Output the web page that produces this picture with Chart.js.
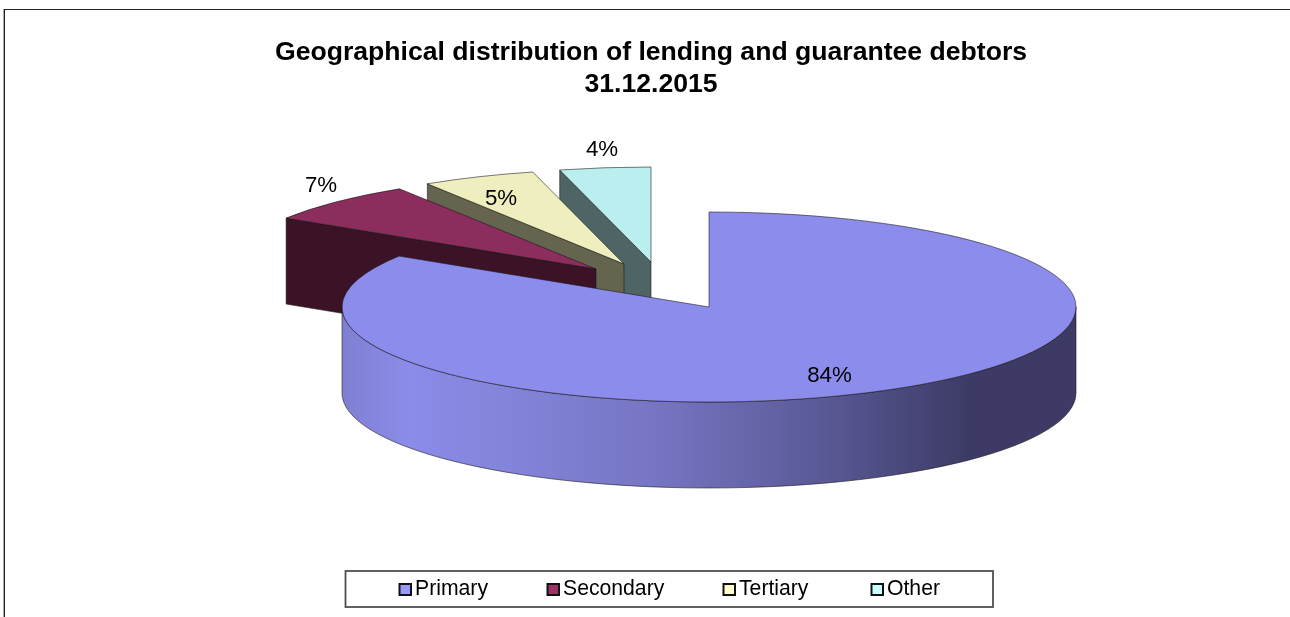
<!DOCTYPE html>
<html>
<head>
<meta charset="utf-8">
<title>Geographical distribution</title>
<script src="https://cdn.jsdelivr.net/npm/chart.js@4"></script>
<style>
  html, body { margin: 0; padding: 0; background: #fff; overflow: hidden; }
  canvas { display: block; }
</style>
</head>
<body>
<canvas id="mycanvas" width="1290" height="617"></canvas>
<script>
var categories = ["Primary", "Secondary", "Tertiary", "Other"];
var shares = [84, 7, 5, 4];
var titleLines = ["Geographical distribution of lending and guarantee debtors", "31.12.2015"];

var topColors = ["#8c8cec", "#8b2e5e", "#eeeebe", "#bbeeee"];
var wallColors = ["#8888e0", "#3c1226", "#65654f", "#4f6565"];
var keyColors = ["#9999ff", "#993366", "#ffffcc", "#ccffff"];

// pie seen at a tilt: ellipse centre and radii, and the height of the disc
var tilt = { cx: 709, cy: 307, rx: 367, ry: 95, depth: 86 };
// how far each slice is pulled away from the centre
var pullX = [0, -113, -85, -58];
var pullY = [0, -38, -43, -45];
// label centres
var labelX = [829.5, 321, 501, 602];
var labelY = [376, 186, 199, 150];
// left edge of each legend swatch
var keyX = [399, 547, 723, 871];

var fontName = "'Liberation Sans', Arial, sans-serif";
var edge = "rgba(20,20,20,0.75)";

function sideFill(ctx, i, left, right) {
  if (i != 0) return wallColors[i];
  var g = ctx.createLinearGradient(left, 0, right, 0);
  g.addColorStop(0, "#7f7fd2");
  g.addColorStop(0.09, "#8b8bea");
  g.addColorStop(0.2, "#8585dc");
  g.addColorStop(0.42, "#7676c4");
  g.addColorStop(0.65, "#5a5a98");
  g.addColorStop(0.85, "#3d3b66");
  g.addColorStop(1, "#3d3b66");
  return g;
}

// radial cut walls and the curved outer wall of one slice
function drawWalls(ctx, arc, i) {
  var x = tilt.cx + pullX[i];
  var y = tilt.cy + pullY[i];
  var d = tilt.depth;

  [[arc.startAngle, -1], [arc.endAngle, 1]].forEach(function(cut) {
    if (Math.sin(cut[0] + cut[1] * Math.PI / 2) <= 0.001) return;
    var px = x + tilt.rx * Math.cos(cut[0]);
    var py = y + tilt.ry * Math.sin(cut[0]);
    ctx.beginPath();
    ctx.moveTo(x, y);
    ctx.lineTo(px, py);
    ctx.lineTo(px, py + d);
    ctx.lineTo(x, y + d);
    ctx.closePath();
    ctx.fillStyle = wallColors[i];
    ctx.fill();
    ctx.strokeStyle = edge;
    ctx.lineWidth = 0.75;
    ctx.stroke();
  });

  for (var k = -1; k <= 1; k++) {
    var a0 = Math.max(arc.startAngle, 2 * Math.PI * k);
    var a1 = Math.min(arc.endAngle, 2 * Math.PI * k + Math.PI);
    if (a0 >= a1) continue;
    ctx.beginPath();
    ctx.ellipse(x, y, tilt.rx, tilt.ry, 0, a0, a1);
    ctx.ellipse(x, y + d, tilt.rx, tilt.ry, 0, a1, a0, true);
    ctx.closePath();
    ctx.fillStyle = sideFill(ctx, i, x - tilt.rx, x + tilt.rx);
    ctx.fill();
    ctx.strokeStyle = edge;
    ctx.lineWidth = 0.75;
    ctx.stroke();
  }
}

var tiltedPie = {
  id: "tiltedPie",
  beforeDraw: function(chart) {
    var ctx = chart.ctx;
    ctx.save();
    ctx.fillStyle = "#fff";
    ctx.fillRect(0, 0, chart.width, chart.height);
    // outer chart frame, only its top and left sides are in view
    ctx.fillStyle = "#aaa";
    ctx.fillRect(3, 9, 1, chart.height - 9);
    ctx.fillStyle = "#222";
    ctx.fillRect(4, 9, 1, chart.height - 9);
    ctx.fillRect(4, 9, chart.width - 4, 1);
    ctx.restore();
  },
  beforeDatasetDraw: function(chart, args) {
    var ctx = chart.ctx;
    var arcs = args.meta.data;
    // back slices first, the big slice sits in front of them
    for (var i = arcs.length - 1; i >= 0; i--) {
      var arc = arcs[i];
      var R = arc.outerRadius;
      var x = tilt.cx + pullX[i];
      var y = tilt.cy + pullY[i];

      drawWalls(ctx, arc, i);

      ctx.save();
      ctx.translate(x, y);
      ctx.scale(tilt.rx / R, tilt.ry / R);
      ctx.translate(-arc.x, -arc.y);
      arc.draw(ctx);
      ctx.restore();

      ctx.beginPath();
      ctx.moveTo(x, y);
      ctx.ellipse(x, y, tilt.rx, tilt.ry, 0, arc.startAngle, arc.endAngle);
      ctx.closePath();
      ctx.strokeStyle = edge;
      ctx.lineWidth = 0.75;
      ctx.stroke();
    }
    return false;
  },
  afterDatasetsDraw: function(chart) {
    var ctx = chart.ctx;
    ctx.save();
    ctx.fillStyle = "#000";
    ctx.font = "22.3px " + fontName;
    ctx.textAlign = "center";
    ctx.textBaseline = "middle";
    for (var i = 0; i < shares.length; i++) {
      ctx.fillText(shares[i] + "%", labelX[i], labelY[i]);
    }
    ctx.restore();
  },
  // legend row: swatch and name sit closer together than the built-in legend allows
  afterDraw: function(chart) {
    var ctx = chart.ctx;
    ctx.save();
    ctx.strokeStyle = "#4a4a4a";
    ctx.lineWidth = 1.75;
    ctx.strokeRect(345.5, 571, 647.5, 36);
    ctx.font = "21.2px " + fontName;
    ctx.textBaseline = "middle";
    for (var i = 0; i < categories.length; i++) {
      ctx.fillStyle = keyColors[i];
      ctx.fillRect(keyX[i] + 0.5, 584, 11.5, 11);
      ctx.strokeStyle = "#111";
      ctx.lineWidth = 2;
      ctx.strokeRect(keyX[i] + 0.5, 584, 11.5, 11);
      ctx.fillStyle = "#000";
      ctx.fillText(categories[i], keyX[i] + 16, 589.5);
    }
    ctx.restore();
  }
};

new Chart(document.getElementById("mycanvas"), {
  type: "pie",
  data: {
    labels: categories,
    datasets: [{ data: shares, backgroundColor: topColors, borderWidth: 0 }]
  },
  options: {
    responsive: false,
    animation: false,
    layout: { padding: { left: 12, top: 0 } },
    plugins: {
      legend: { display: false },
      tooltip: { enabled: false },
      title: {
        display: true,
        text: titleLines,
        color: "#000",
        font: { family: fontName, size: 26.6, weight: "bold", lineHeight: 1.2 },
        padding: { top: 37, bottom: 10 }
      }
    }
  },
  plugins: [tiltedPie]
});
</script>
</body>
</html>
